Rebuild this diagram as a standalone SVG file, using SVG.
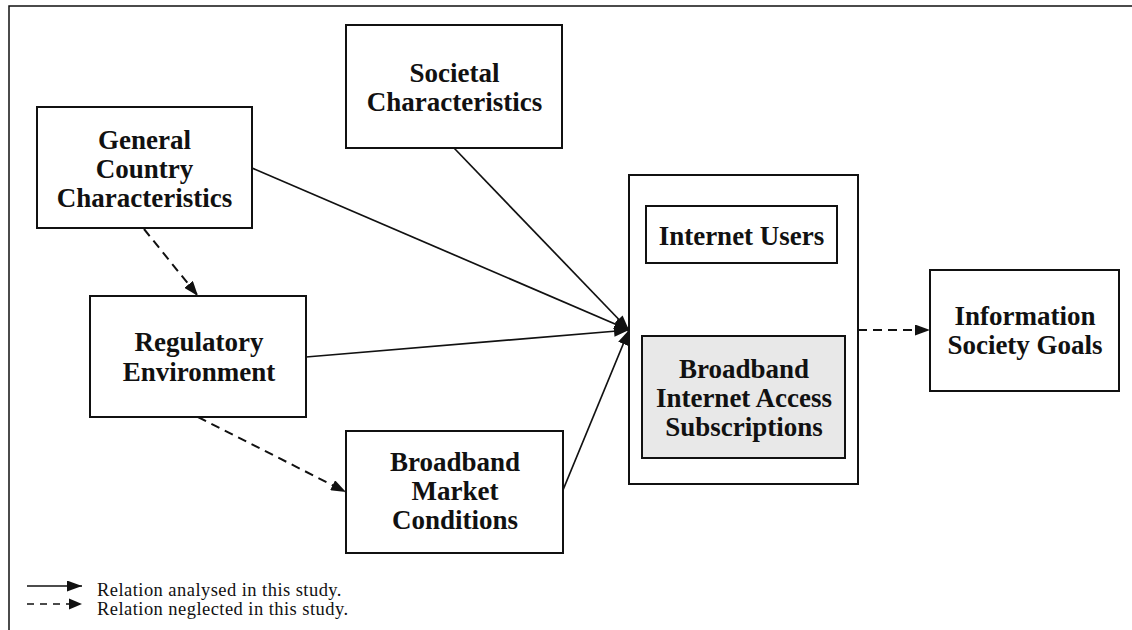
<svg xmlns="http://www.w3.org/2000/svg" width="1132" height="630" viewBox="0 0 1132 630">
  <style>
    .box { fill: #ffffff; stroke: #111111; stroke-width: 2; }
    .shaded { fill: #e8e8e8; }
    .lbl { font-family: "Liberation Serif", "Times New Roman", serif; font-size: 27px; font-weight: bold; fill: #111111; text-anchor: middle; }
    .leg { font-family: "Liberation Serif", "Times New Roman", serif; font-size: 18.5px; letter-spacing: 0.45px; fill: #111111; }
    .rel { fill: none; stroke: #111111; stroke-width: 1.7; }
    .solid { marker-end: url(#head); }
    .dash { stroke-width: 2; stroke-dasharray: 9 6; marker-end: url(#head); }
    .frame { fill: none; stroke: #111111; stroke-width: 1.5; }
  </style>
  <defs>
    <marker id="head" markerUnits="userSpaceOnUse" markerWidth="15" markerHeight="11" refX="15" refY="5.5" orient="auto">
      <path d="M0,0 L15,5.5 L0,11 Z" fill="#111111" stroke="none"/>
    </marker>
  </defs>

  <rect width="1132" height="630" fill="#ffffff"/>

  <!-- page frame, open on the right and bottom -->
  <path class="frame" d="M9,632 V6 H1134"/>

  <g id="connectors">
    <line class="rel solid" x1="252" y1="168" x2="629" y2="330"/>
    <line class="rel solid" x1="454" y1="148" x2="629" y2="330"/>
    <line class="rel solid" x1="306" y1="357" x2="629" y2="330"/>
    <line class="rel solid" x1="563" y1="490" x2="629" y2="330"/>
    <line class="rel dash" x1="144" y1="229" x2="198" y2="296"/>
    <line class="rel dash" x1="198" y1="417" x2="346" y2="492"/>
    <line class="rel dash" x1="858" y1="330" x2="930" y2="330"/>
  </g>

  <g id="general-country">
    <rect class="box" x="37" y="107" width="215" height="121"/>
    <text class="lbl" x="144.5" y="149">General</text>
    <text class="lbl" x="144.5" y="178">Country</text>
    <text class="lbl" x="144.5" y="207">Characteristics</text>
  </g>

  <g id="societal">
    <rect class="box" x="346" y="25" width="216" height="123"/>
    <text class="lbl" x="454.5" y="82">Societal</text>
    <text class="lbl" x="454.5" y="111">Characteristics</text>
  </g>

  <g id="regulatory">
    <rect class="box" x="90" y="296" width="216" height="121"/>
    <text class="lbl" x="199" y="351">Regulatory</text>
    <text class="lbl" x="199" y="381">Environment</text>
  </g>

  <g id="market-conditions">
    <rect class="box" x="346" y="431" width="217" height="122"/>
    <text class="lbl" x="455" y="471">Broadband</text>
    <text class="lbl" x="455" y="500">Market</text>
    <text class="lbl" x="455" y="529">Conditions</text>
  </g>

  <g id="outcomes">
    <rect class="box" x="629" y="175" width="229" height="309"/>
    <g id="internet-users">
      <rect class="box" x="646" y="206" width="191" height="57"/>
      <text class="lbl" x="741.5" y="245">Internet Users</text>
    </g>
    <g id="broadband-subscriptions">
      <rect class="box shaded" x="642" y="336" width="203" height="122"/>
      <text class="lbl" x="744" y="378">Broadband</text>
      <text class="lbl" x="744" y="407">Internet Access</text>
      <text class="lbl" x="744" y="436">Subscriptions</text>
    </g>
  </g>

  <g id="society-goals">
    <rect class="box" x="930" y="270" width="189" height="121"/>
    <text class="lbl" x="1025" y="325">Information</text>
    <text class="lbl" x="1025" y="354">Society Goals</text>
  </g>

  <g id="legend">
    <line class="rel solid" x1="27" y1="586" x2="82" y2="586" stroke-width="2"/>
    <line class="rel" x1="27" y1="604" x2="72" y2="604" stroke-width="2" stroke-dasharray="7 6"/>
    <path d="M69,598.5 L82,604 L69,609.5 Z" fill="#111111"/>
    <text class="leg" x="97" y="596">Relation analysed in this study.</text>
    <text class="leg" x="97" y="615">Relation neglected in this study.</text>
  </g>
</svg>
